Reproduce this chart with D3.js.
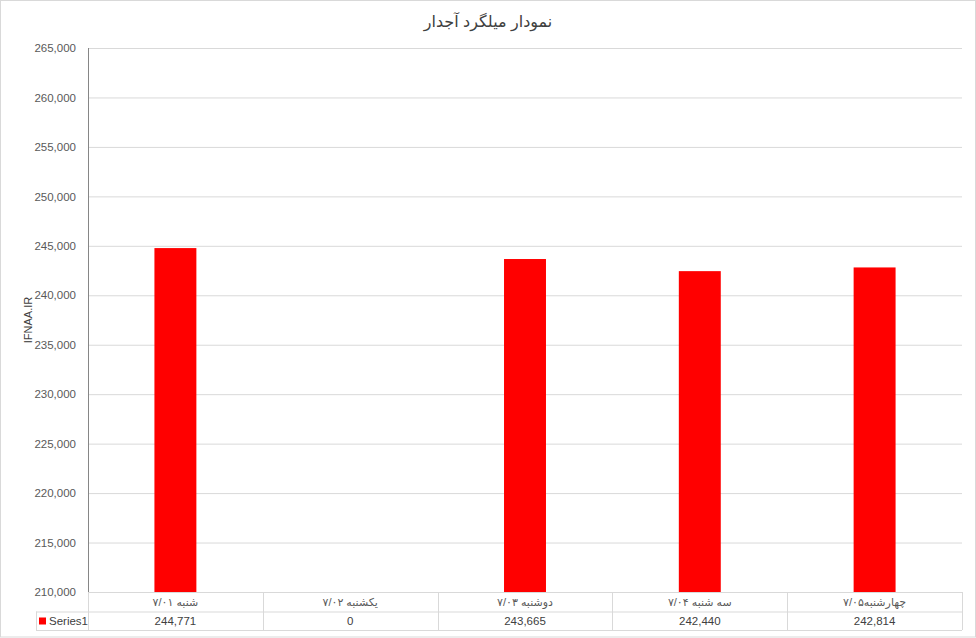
<!DOCTYPE html>
<html>
<head>
<meta charset="utf-8">
<script src="https://cdn.jsdelivr.net/npm/d3@7"></script>
<style>
  body { margin: 0; background: #fff; }
  svg { font-family: "Liberation Sans", "DejaVu Sans", sans-serif; }
</style>
</head>
<body>
<div id="chart"></div>
<script>
const categories = ["شنبه ۷/۰۱", "یکشنبه ۷/۰۲", "دوشنبه ۷/۰۳", "سه شنبه ۷/۰۴", "چهارشنبه۷/۰۵"];
const values = [244771, 0, 243665, 242440, 242814];
const valueLabels = ["244,771", "0", "243,665", "242,440", "242,814"];
const seriesName = "Series1";
const yTicks = d3.range(210000, 265001, 5000);

const width = 976, height = 638;
const plot = { left: 88, right: 962, top: 48, bottom: 592 };
const rowH = [19.5, 18.5];

const svg = d3.select('#chart').append('svg')
    .attr('width', width)
    .attr('height', height);

// outer chart border
svg.append('rect')
    .attr('x', 0.5).attr('y', 0.5)
    .attr('width', width - 1).attr('height', height - 1.5)
    .attr('fill', '#fff').attr('stroke', '#d9d9d9');

const x = d3.scaleBand()
    .domain(categories)
    .range([plot.left, plot.right])
    .paddingInner(0.76)
    .paddingOuter(0.38);

const xCell = d3.scaleBand()
    .domain(categories)
    .range([plot.left, plot.right]);

const y = d3.scaleLinear()
    .domain([210000, 265000])
    .range([plot.bottom, plot.top]);

// gridlines + tick labels
const yAxis = d3.axisLeft(y)
    .tickValues(yTicks)
    .tickSizeInner(-(plot.right - plot.left))
    .tickSizeOuter(0)
    .tickPadding(12)
    .tickFormat(d3.format(','));

const yg = svg.append('g')
    .attr('transform', `translate(${plot.left},0)`)
    .call(yAxis);
yg.select('.domain').remove();
yg.selectAll('.tick line').attr('stroke', '#d9d9d9');
yg.selectAll('.tick text')
    .attr('fill', '#595959')
    .style('font-size', '11.5px');

// y axis line
svg.append('line')
    .attr('x1', plot.left + 0.5).attr('x2', plot.left + 0.5)
    .attr('y1', plot.top).attr('y2', plot.bottom)
    .attr('stroke', '#868686');

// bars
svg.append('g').selectAll('rect')
    .data(values)
    .join('rect')
    .attr('x', (d, i) => x(categories[i]))
    .attr('width', x.bandwidth())
    .attr('y', d => y(Math.max(d, 210000)))
    .attr('height', d => Math.max(0, y.range()[0] - y(Math.max(d, 210000))))
    .attr('fill', '#ff0000');

// data table
const t = svg.append('g').attr('stroke', '#d9d9d9').attr('fill', 'none');
const r0 = plot.bottom, r1 = plot.bottom + rowH[0], r2 = r1 + rowH[1];
const legendLeft = 36;
t.append('line').attr('x1', plot.left).attr('x2', plot.right).attr('y1', r0 + 0.5).attr('y2', r0 + 0.5);
t.append('line').attr('x1', legendLeft).attr('x2', plot.right).attr('y1', r1 + 0.5).attr('y2', r1 + 0.5);
t.append('line').attr('x1', legendLeft).attr('x2', plot.right).attr('y1', r2 + 0.5).attr('y2', r2 + 0.5);
t.append('line').attr('x1', legendLeft + 0.5).attr('x2', legendLeft + 0.5).attr('y1', r1).attr('y2', r2);
categories.forEach(c => {
    t.append('line')
        .attr('x1', Math.round(xCell(c)) + 0.5).attr('x2', Math.round(xCell(c)) + 0.5)
        .attr('y1', r0).attr('y2', r2);
});
t.append('line').attr('x1', plot.right + 0.5).attr('x2', plot.right + 0.5).attr('y1', r0).attr('y2', r2);

svg.append('g').selectAll('text')
    .data(categories)
    .join('text')
    .attr('x', d => xCell(d) + xCell.bandwidth() / 2)
    .attr('y', r0 + 14)
    .attr('text-anchor', 'middle')
    .attr('direction', 'rtl')
    .attr('fill', '#595959')
    .style('font-size', '11px')
    .text(d => d);

svg.append('g').selectAll('text')
    .data(valueLabels)
    .join('text')
    .attr('x', (d, i) => xCell(categories[i]) + xCell.bandwidth() / 2)
    .attr('y', r1 + 13.5)
    .attr('text-anchor', 'middle')
    .attr('fill', '#404040')
    .style('font-size', '11.5px')
    .text(d => d);

// legend key
svg.append('rect')
    .attr('x', legendLeft + 3).attr('y', r1 + 6)
    .attr('width', 7).attr('height', 7)
    .attr('fill', '#ff0000');
svg.append('text')
    .attr('x', legendLeft + 13).attr('y', r1 + 13.5)
    .attr('fill', '#404040')
    .style('font-size', '11.5px')
    .text(seriesName);

// title
svg.append('text')
    .attr('x', 488).attr('y', 27)
    .attr('text-anchor', 'middle')
    .attr('direction', 'rtl')
    .attr('fill', '#404040')
    .style('font-size', '16px')
    .text('نمودار میلگرد آجدار');

// y axis title
svg.append('text')
    .attr('transform', `translate(32,${(plot.top + plot.bottom) / 2}) rotate(-90)`)
    .attr('text-anchor', 'middle')
    .attr('fill', '#404040')
    .style('font-size', '11px')
    .text('IFNAA.IR');
</script>
</body>
</html>
